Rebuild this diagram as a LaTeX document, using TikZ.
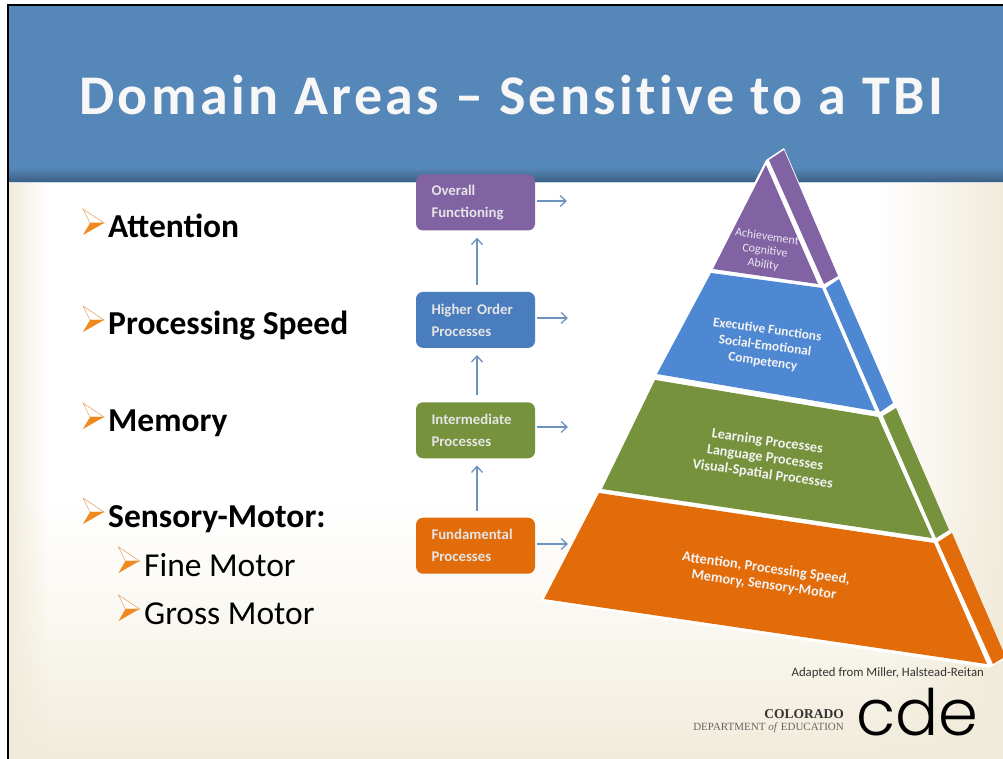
\documentclass[tikz,border=0pt]{standalone}
\usepackage{fontspec}
\usepackage{xcolor}
\usepackage{tikz}
\usetikzlibrary{arrows.meta,positioning,fadings}
\setmainfont{Carlito}
\newfontfamily\logofont[UprightFont=* Light]{Poppins}
\newfontfamily\serifont{Liberation Serif}
\newfontfamily\titlefont[LetterSpace=6,Ligatures=NoCommon]{Carlito}
\definecolor{cream}{HTML}{F1EBD9}
\definecolor{titleblue}{HTML}{5587B8}
\definecolor{linkblue}{HTML}{6E93BE}
\definecolor{bulletorange}{HTML}{F08A1E}
\definecolor{tipurple}{HTML}{8162A3}
\definecolor{tiblue}{HTML}{4F88D2}
\definecolor{boxblue}{HTML}{4A7DBE}
\definecolor{tigreen}{HTML}{76923C}
\definecolor{tiorange}{HTML}{E36C0A}
\newcommand{\bulletmark}[3][1]{%
  \begin{scope}[shift={(#2,#3)},scale=#1]
    \fill[white] (-21,-14) -- (0,0) -- (-21,12) -- (-14,0) -- cycle;
    \draw[bulletorange!60!brown!70,line width=.6pt] (-21,-14) -- (0,0) -- (-14,0) -- cycle;
    \fill[bulletorange] (-14,0) -- (0,0) -- (-21,12) -- cycle;
  \end{scope}}

\begin{document}
\begin{tikzpicture}[
x=1pt,y=-1pt,
node distance=60pt and 30pt,
procbox/.style={rectangle, rounded corners=7pt, minimum width=119pt, minimum height=56pt, text=white!90!black, font=\fontsize{14.8}{22}\selectfont\bfseries, align=left, text width=88pt, inner sep=0pt},
arrow/.style={-{Straight Barb[length=6pt,width=11pt]}, linkblue, line width=1.3pt},
uparrow/.style={arrow, shorten >=7pt, shorten <=7pt},
bigitem/.style={anchor=base west, font=\fontsize{33.5}{38}\selectfont\bfseries, inner sep=0pt},
subitem/.style={anchor=base west, font=\fontsize{33.5}{38}\selectfont, inner sep=0pt},
tier/.style={text=white!95!black, font=\fontsize{14.3}{16.5}\selectfont\bfseries, align=center, inner sep=0pt}
]
\useasboundingbox (0,0) rectangle (1003,759);

% Slide background
\fill[white] (0,0) rectangle (1003,759);
\shade[top color=white, bottom color=cream, middle color=white!60!cream] (8,500) rectangle (1003,759);
\fill[cream, path fading=east] (8,182) rectangle (48,759);
\fill[cream, path fading=west] (880,182) rectangle (1003,759);

% Title band
\fill[titleblue] (8,5) rectangle (1003,168);
\shade[top color=titleblue, bottom color=titleblue!70!black] (8,168) rectangle (1003,182);
\draw[white!70!titleblue, line width=.8pt] (8,182) -- (1003,182);
\node[text=white!97!black, font=\fontsize{56}{60}\selectfont\bfseries\titlefont, anchor=base west, inner sep=0pt] (title) at (79,115) {Domain Areas – Sensitive to a TBI};

% Frame
\draw[black, line width=2pt] (8,759) -- (8,5) -- (1003,5);

% Pyramid
\fill[white] (766,160) -- (784,148) -- (1003,655) -- (1003,660) -- (989,668) -- (541,601) -- cycle;
\fill[tipurple] (766,165) -- (818,284) -- (713,269) -- cycle;
\fill[tipurple] (769,160) -- (784,150) -- (838,276) -- (824,284) -- cycle;
\fill[tiblue] (711,273) -- (822,288) -- (875,411) -- (657,374) -- cycle;
\fill[tiblue] (826,288) -- (839,279) -- (893,403) -- (880,412) -- cycle;
\fill[tigreen] (655,380) -- (878,417) -- (932,538) -- (602,489) -- cycle;
\fill[tigreen] (883,416) -- (896,408) -- (949,530) -- (936,538) -- cycle;
\fill[tiorange] (599,493) -- (934,543) -- (987,664) -- (544,599) -- cycle;
\fill[tiorange] (938,542) -- (952,533) -- (1003,651) -- (1003,658) -- (993,664) -- cycle;

\node[tier, font=\fontsize{12}{14}\selectfont, text=white!85!tipurple, rotate=-8] (achieve) at (765,251) {Achievement\\Cognitive\\Ability};
\node[tier, font=\fontsize{13.4}{16}\selectfont\bfseries, rotate=-8] (exec) at (765,346) {Executive Functions\\Social-Emotional\\Competency};
\node[tier, rotate=-8] (learn) at (765,458) {Learning Processes\\Language Processes\\Visual-Spatial Processes};
\node[tier, rotate=-8] (attn) at (765,577) {Attention, Processing Speed,\\Memory, Sensory-Motor};

% Process boxes
\node[procbox, fill=tipurple] (overall) at (475.5,202.5) {Overall\\Functioning};
\node[procbox, fill=boxblue, below=61pt of overall] (higher) {Higher Order\\Processes};
\node[procbox, fill=tigreen, below=54pt of higher] (inter) {Intermediate\\Processes};
\node[procbox, fill=tiorange, below=59pt of inter] (fund) {Fundamental\\Processes};

\coordinate (overallend) at (567,201);
\coordinate (higherend) at (568,318);
\coordinate (interend) at (568,427);
\coordinate (fundend) at (568,544);

% Arrows
\draw[uparrow] ([xshift=1.5pt]fund.north) -- ([xshift=1.5pt]inter.south);
\draw[uparrow] ([xshift=1.5pt]inter.north) -- ([xshift=1.5pt]higher.south);
\draw[uparrow] ([xshift=1.5pt]higher.north) -- ([xshift=1.5pt]overall.south);
\draw[arrow, shorten <=2pt] (overall.east |- overallend) -- (overallend);
\draw[arrow, shorten <=2pt] (higher.east |- higherend) -- (higherend);
\draw[arrow, shorten <=2pt] (inter.east |- interend) -- (interend);
\draw[arrow, shorten <=2pt] (fund.east |- fundend) -- (fundend);

% Bullets
\bulletmark{104}{223}
\bulletmark{104}{320}
\bulletmark{104}{417}
\bulletmark{104}{512}
\bulletmark{139.5}{561}
\bulletmark{139.5}{609}
\node[bigitem] (attention) at (108,237) {Attention};
\node[bigitem] (speed) at (108,334) {Processing Speed};
\node[bigitem] (memory) at (108,431) {Memory};
\node[bigitem] (sensory) at (108,527) {Sensory-Motor:};
\node[subitem] (fine) at (144,576) {Fine Motor};
\node[subitem] (gross) at (144,624) {Gross Motor};

% Credit and logo
\node[font=\fontsize{12.75}{14}\selectfont, text=black!80, anchor=east, inner sep=0pt] (credit) at (984,673) {Adapted from Miller, Halstead-Reitan};
\node[font=\fontsize{13.5}{15}\selectfont\bfseries\serifont, text=black!80, anchor=east, inner sep=0pt] (colorado) at (844,714) {COLORADO};
\node[font=\fontsize{11}{13}\selectfont\serifont, text=black!60, anchor=east, inner sep=0pt] (dept) at (844,728) {DEPARTMENT \textit{of} EDUCATION};
\node[font=\fontsize{64}{64}\selectfont\logofont, anchor=base west, inner sep=0pt] (cde) at (856,735) {cde};
\end{tikzpicture}
\end{document}
